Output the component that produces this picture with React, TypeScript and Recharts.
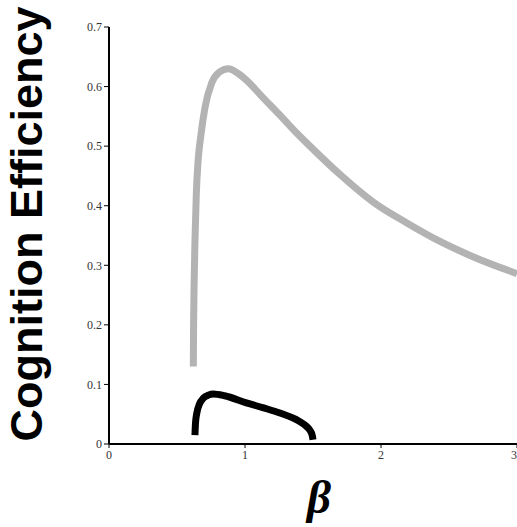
import { Line, LineChart, XAxis, YAxis } from "recharts";

// grey curve (upper)
const betaUpper = [0.62, 0.622, 0.626, 0.632, 0.642, 0.655, 0.674, 0.706, 0.755, 0.81, 0.877, 0.95, 1.01, 1.13, 1.257, 1.38, 1.5, 1.7, 1.943, 2.19, 2.434, 2.68, 3.0];
const effUpper = [0.13, 0.2, 0.27, 0.34, 0.42, 0.475, 0.515, 0.565, 0.606, 0.624, 0.63, 0.622, 0.611, 0.582, 0.552, 0.522, 0.495, 0.452, 0.406, 0.371, 0.34, 0.314, 0.286];

// black curve (lower)
const betaLower = [0.632, 0.636, 0.645, 0.665, 0.694, 0.73, 0.767, 0.85, 1.01, 1.13, 1.257, 1.4, 1.45, 1.478, 1.495, 1.5];
const effLower = [0.015, 0.035, 0.051, 0.067, 0.077, 0.082, 0.084, 0.081, 0.069, 0.061, 0.052, 0.038, 0.03, 0.023, 0.014, 0.007];

const xTicks = [0, 1, 2, 3];
const yTicks = [0, 0.1, 0.2, 0.3, 0.4, 0.5, 0.6, 0.7];

const upperData = betaUpper.map((beta, i) => ({ beta, eff: effUpper[i] }));
const lowerData = betaLower.map((beta, i) => ({ beta, eff: effLower[i] }));

const tickStyle = { fontSize: 12, fill: "#333", fontFamily: "'Liberation Serif', 'DejaVu Serif', serif" };

const yTitle = () => (
  <text
    x={42}
    y={224}
    transform="rotate(-90 42 224)"
    textAnchor="middle"
    fontFamily="'Liberation Sans', Arial, sans-serif"
    fontWeight="bold"
    fontSize={45}
    fill="#000"
  >
    Cognition Efficiency
  </text>
);

const xTitle = () => (
  <text
    x={319}
    y={513}
    textAnchor="middle"
    fontFamily="'Liberation Serif', 'Times New Roman', serif"
    fontWeight="bold"
    fontStyle="italic"
    fontSize={47}
    fill="#000"
  >
    β
  </text>
);

export default function App() {
  return (
    <div style={{ position: "absolute", left: 0, top: 0, background: "#fff" }}>
      <LineChart width={517} height={527} margin={{ top: 27, right: 0, bottom: 53, left: 69 }}>
        <XAxis
          type="number"
          dataKey="beta"
          domain={[0, 3]}
          ticks={xTicks}
          allowDataOverflow
          tick={tickStyle}
          tickSize={4}
          height={30}
          axisLine={{ stroke: "#000", strokeWidth: 2 }}
          tickLine={{ stroke: "#000" }}
          label={xTitle}
        />
        <YAxis
          type="number"
          dataKey="eff"
          domain={[0, 0.7]}
          ticks={yTicks}
          allowDataOverflow
          tick={tickStyle}
          tickSize={5}
          width={40}
          axisLine={{ stroke: "#000", strokeWidth: 2 }}
          tickLine={{ stroke: "#000" }}
          label={yTitle}
        />
        <Line
          data={upperData}
          dataKey="eff"
          type="monotone"
          stroke="#b3b3b3"
          strokeWidth={7}
          dot={false}
          isAnimationActive={false}
        />
        <Line
          data={lowerData}
          dataKey="eff"
          type="monotone"
          stroke="#000"
          strokeWidth={7}
          dot={false}
          isAnimationActive={false}
        />
      </LineChart>
    </div>
  );
}
